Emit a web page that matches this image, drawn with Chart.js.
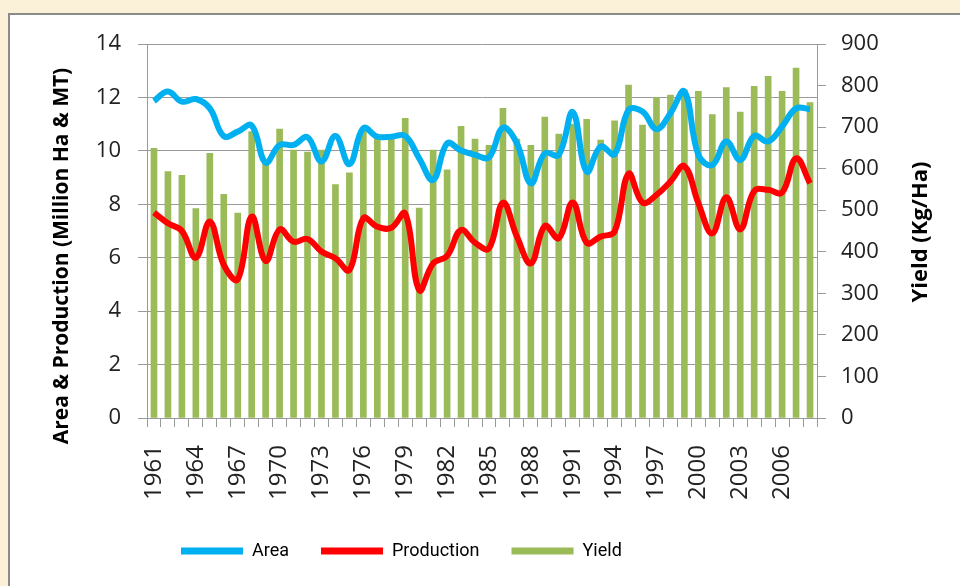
<!DOCTYPE html>
<html>
<head>
<meta charset="utf-8">
<script src="https://cdn.jsdelivr.net/npm/chart.js@4/dist/chart.umd.min.js"></script>
<style>
  html, body { margin: 0; padding: 0; background: #fbf0d8; overflow: hidden; }
  body { width: 960px; height: 586px; position: relative; }
  #frame { position: absolute; left: 8px; top: 13px; width: 980px; height: 600px; background: #fff; border: 2px solid #8a8a8a; }
  #c { position: absolute; left: 0; top: 0; }
</style>
</head>
<body>
<div id="frame"></div>
<canvas id="c" width="960" height="586"></canvas>
<script>
// Area & production (left axis) and yield (right axis), 1961-2008
var years = ['1961','1962','1963','1964','1965','1966','1967','1968','1969','1970',
  '1971','1972','1973','1974','1975','1976','1977','1978','1979','1980',
  '1981','1982','1983','1984','1985','1986','1987','1988','1989','1990',
  '1991','1992','1993','1994','1995','1996','1997','1998','1999','2000',
  '2001','2002','2003','2004','2005','2006','2007','2008'];

var area = [11.87, 12.22, 11.84, 11.94, 11.59, 10.55, 10.72, 10.95, 9.56, 10.22,
  10.22, 10.51, 9.6, 10.56, 9.5, 10.85, 10.53, 10.53, 10.56, 9.72,
  8.91, 10.28, 10.01, 9.85, 9.76, 10.87, 10.28, 8.79, 9.91, 9.85,
  11.45, 9.22, 10.16, 9.88, 11.53, 11.47, 10.81, 11.41, 12.22, 9.85,
  9.47, 10.35, 9.66, 10.56, 10.35, 10.91, 11.59, 11.56];

var production = [7.69, 7.29, 7.0, 6.0, 7.35, 5.73, 5.19, 7.54, 5.88, 7.06,
  6.6, 6.7, 6.23, 5.98, 5.54, 7.48, 7.16, 7.12, 7.66, 4.79,
  5.79, 6.07, 7.04, 6.56, 6.35, 8.06, 6.79, 5.79, 7.19, 6.73,
  8.07, 6.56, 6.79, 6.98, 9.14, 8.06, 8.35, 8.85, 9.43, 8.04,
  6.91, 8.26, 7.06, 8.5, 8.54, 8.44, 9.72, 8.79];

var yieldKg = [649, 593, 584, 504, 637, 538, 493, 689, 617, 695,
  645, 640, 645, 562, 590, 690, 677, 673, 721, 505,
  645, 597, 702, 671, 656, 745, 671, 656, 724, 683,
  707, 719, 669, 715, 801, 705, 771, 777, 790, 786,
  730, 795, 736, 798, 822, 786, 842, 759];

var leftTitle = 'Area & Production (Million Ha & MT)';
var rightTitle = 'Yield (Kg/Ha)';

var tickFont = { family: '"Open Sans", sans-serif', size: 22 };
var gridGray = '#9a9a9a';

// axis titles read bottom-to-top on both sides (Excel style)
var axisTitles = {
  id: 'axisTitles',
  afterDraw: function(chart) {
    var ctx = chart.ctx;
    ctx.save();
    ctx.fillStyle = '#000';
    ctx.textAlign = 'center';
    ctx.textBaseline = 'middle';
    [[leftTitle, 62, 256, 21], [rightTitle, 921, 232, 22]].forEach(function(t) {
      ctx.save();
      ctx.font = 'bold ' + t[3] + 'px "Open Sans", sans-serif';
      ctx.translate(t[1], t[2]);
      ctx.rotate(-Math.PI / 2);
      ctx.fillText(t[0], 0, 0);
      ctx.restore();
    });
    ctx.restore();
  }
};

// legend sits left of centre in the original
var legendShift = {
  id: 'legendShift',
  afterLayout: function(chart) {
    if (chart.legend) chart.legend.left = 149;
  }
};

new Chart(document.getElementById('c'), {
  data: {
    labels: years,
    datasets: [
      { type: 'line', label: 'Area', data: area, yAxisID: 'y', order: 1,
        borderColor: '#00b0f0', backgroundColor: '#00b0f0', borderWidth: 6,
        tension: 0.4, pointRadius: 0, borderJoinStyle: 'round', fill: false },
      { type: 'line', label: 'Production', data: production, yAxisID: 'y', order: 1,
        borderColor: '#ff0000', backgroundColor: '#ff0000', borderWidth: 6,
        tension: 0.4, pointRadius: 0, borderJoinStyle: 'round', fill: false },
      { type: 'bar', label: 'Yield', data: yieldKg, yAxisID: 'y2', order: 2,
        backgroundColor: '#9bbb59', borderColor: '#9bbb59', borderWidth: 0, barThickness: 6 }
    ]
  },
  options: {
    responsive: false, animation: false,
    layout: { padding: { left: 0, right: 0, top: 44, bottom: 16 } },
    plugins: {
      tooltip: { enabled: false },
      legend: {
        position: 'bottom', align: 'start',
        labels: {
          color: '#000', font: { family: 'Roboto, sans-serif', size: 18 },
          boxWidth: 62, boxHeight: 7, padding: 32,
          generateLabels: function(chart) {
            return Chart.defaults.plugins.legend.labels.generateLabels(chart).map(function(l) {
              l.lineWidth = 0;
              return l;
            });
          }
        }
      }
    },
    scales: {
      x: {
        offset: true,
        grid: { display: true, drawOnChartArea: false, drawTicks: true, tickLength: 9, color: gridGray, offset: true },
        border: { color: gridGray },
        ticks: {
          autoSkip: false, maxRotation: 90, minRotation: 90, padding: 18, color: '#222',
          font: { family: '"Open Sans", sans-serif', size: 24 },
          callback: function(v, i) { return i % 3 === 0 ? years[i] : ''; }
        },
        afterFit: function(s) { s.height = 92; }
      },
      y: {
        position: 'left', min: 0, max: 14,
        ticks: { stepSize: 2, padding: 17, color: '#222', font: tickFont },
        grid: { color: gridGray, tickLength: 9 },
        border: { color: gridGray },
        afterFit: function(s) { s.width = 147; }
      },
      y2: {
        position: 'right', min: 0, max: 900,
        ticks: { stepSize: 100, padding: 15, color: '#222', font: tickFont },
        grid: { drawOnChartArea: false, color: gridGray, tickLength: 9 },
        border: { color: gridGray },
        afterFit: function(s) { s.width = 143; }
      }
    }
  },
  plugins: [axisTitles, legendShift]
});
</script>
</body>
</html>
